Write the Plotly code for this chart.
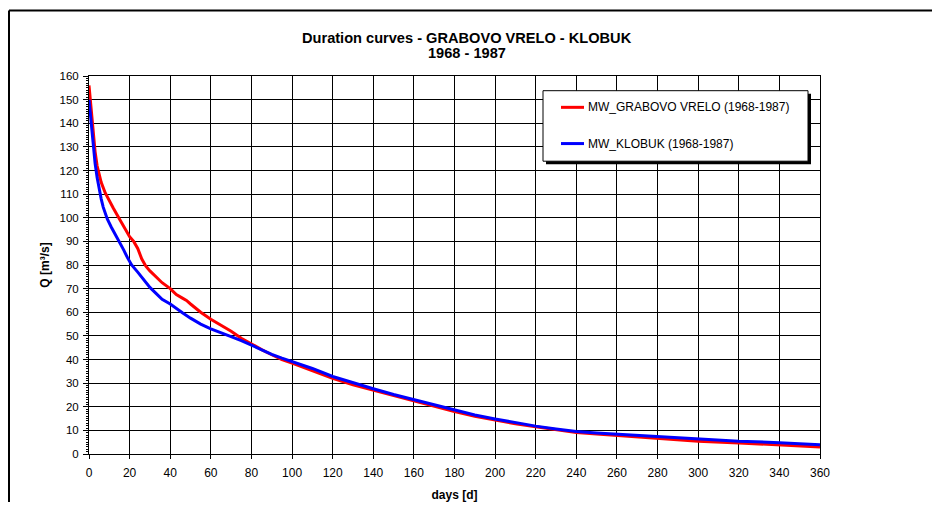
import plotly.graph_objects as go

# ---- data ----
days_grabovo = [0, 1, 2, 3, 4, 5, 6, 8, 10, 12, 15, 18, 20, 22, 24, 26, 28, 30, 33, 36, 40, 43, 46, 48,
                50, 55, 60, 65, 70, 75, 80, 85, 90, 95, 100, 110, 120, 130, 140, 150, 160, 170, 180,
                190, 200, 210, 220, 230, 240, 250, 260, 280, 300, 320, 340, 360]
q_grabovo = [156, 147, 136, 128, 122, 118, 115, 110.5, 107, 104, 99.5, 95, 92, 90, 87, 82.5, 79.5, 77.5,
             75, 72.5, 70, 67.5, 66, 65, 63.5, 60, 57, 54.5, 52, 49, 46.5, 44.2, 42, 40, 38.5, 35.3,
             32, 29.3, 27, 24.6, 22.3, 20, 18, 16, 14.3, 12.8, 11.5, 10.3, 9.1, 8.5, 7.9, 6.5, 5.4,
             4.7, 4.0, 3.0]

days_klobuk = [0, 1, 2, 3, 4, 5, 6, 7, 9, 11, 13, 15, 17, 19, 21, 24, 27, 30, 33, 36, 40, 43, 46, 50,
               55, 60, 65, 69, 75, 80, 85, 90, 95, 100, 110, 120, 130, 140, 150, 160, 170, 180, 190,
               200, 210, 220, 230, 240, 250, 260, 280, 300, 320, 340, 360]
q_klobuk = [150, 141, 131, 123, 117, 112, 108, 104.5, 99.5, 96, 93, 90, 86.5, 83, 80, 77, 73.5, 70.5,
            68, 65.5, 63.5, 61.5, 59.8, 57.5, 55, 53, 51.2, 50, 48, 46, 44, 42.2, 40.6, 39.2, 36.2,
            32.8, 30.1, 27.6, 25.2, 23, 20.6, 18.4, 16.5, 14.8, 13.2, 11.8, 10.6, 9.5, 8.9, 8.4, 7.2,
            6.2, 5.4, 4.8, 3.9]

x_ticks = list(range(0, 361, 20))
y_ticks = list(range(0, 161, 10))

name_grabovo = "MW_GRABOVO VRELO (1968-1987)"
name_klobuk = "MW_KLOBUK (1968-1987)"
title_line1 = "Duration curves - GRABOVO VRELO - KLOBUK"
title_line2 = "1968 - 1987"

FONT = "Liberation Sans, Arial, sans-serif"
RED = "#ff0000"
BLUE = "#0000ff"

# the page places the figure at (8, 8); page pixel coordinates are converted below
OFF = 8
W, H = 941 - 2 * OFF, 520 - 2 * OFF
PL, PR, PT, PB = 89, 820, 76, 462        # plot area in page pixels
L, R, T, B = PL - OFF, W - (PR - OFF), PT - OFF, H - (PB - OFF)
pw = W - L - R
ph = H - T - B


def px_x(px):
    return (px - OFF - L) / pw


def px_y(py):
    return (PB - py) / ph


fig = go.Figure()
fig.add_trace(go.Scatter(x=days_grabovo, y=q_grabovo, mode="lines", name=name_grabovo,
                         line=dict(color=RED, width=3), showlegend=False))
fig.add_trace(go.Scatter(x=days_klobuk, y=q_klobuk, mode="lines", name=name_klobuk,
                         line=dict(color=BLUE, width=3), showlegend=False))

# legend box (page pixel geometry)
LX0, LX1, LY0, LY1 = 543, 808, 91, 163
SH = 3
items = [(name_grabovo, RED, 108), (name_klobuk, BLUE, 145)]

shapes = [
    # outer frame (top and left edges visible)
    dict(type="line", xref="paper", yref="paper",
         x0=px_x(9), x1=px_x(932), y0=px_y(9), y1=px_y(9),
         line=dict(color="black", width=2), layer="below"),
    dict(type="line", xref="paper", yref="paper",
         x0=px_x(9), x1=px_x(9), y0=px_y(9), y1=px_y(511),
         line=dict(color="black", width=2), layer="below"),
    # legend shadow
    dict(type="rect", xref="paper", yref="paper",
         x0=px_x(LX0 + SH), y0=px_y(LY1 + SH), x1=px_x(LX1 + SH), y1=px_y(LY0 + SH),
         line=dict(width=0), fillcolor="black", layer="above"),
    # legend box
    dict(type="rect", xref="paper", yref="paper",
         x0=px_x(LX0), y0=px_y(LY1), x1=px_x(LX1), y1=px_y(LY0),
         line=dict(color="black", width=1), fillcolor="white", layer="above"),
]
annotations = [
    dict(text="<b>" + title_line1 + "</b>", xref="paper", yref="paper",
         x=px_x(467), y=px_y(37), xanchor="center", yanchor="middle", showarrow=False,
         font=dict(size=14.6, family=FONT)),
    dict(text="<b>" + title_line2 + "</b>", xref="paper", yref="paper",
         x=px_x(467), y=px_y(53), xanchor="center", yanchor="middle", showarrow=False,
         font=dict(size=14.6, family=FONT)),
]
for name, col, yy in items:
    shapes.append(dict(type="line", xref="paper", yref="paper",
                       x0=px_x(561), x1=px_x(584), y0=px_y(yy), y1=px_y(yy),
                       line=dict(color=col, width=3), layer="above"))
    annotations.append(dict(text=name, xref="paper", yref="paper", x=px_x(586), y=px_y(yy),
                            xanchor="left", yanchor="middle", showarrow=False,
                            font=dict(size=12, family=FONT)))

fig.update_layout(
    width=W, height=H,
    margin=dict(l=L, r=R, t=T, b=B),
    paper_bgcolor="white", plot_bgcolor="white",
    font=dict(family=FONT, size=11, color="black"),
    showlegend=False,
    xaxis=dict(range=[0, 360], tickvals=x_ticks, showgrid=True, gridcolor="black", gridwidth=1,
               showline=True, linecolor="black", linewidth=1, mirror=True,
               ticks="outside", ticklen=4, tickcolor="black", zeroline=False,
               ticklabelstandoff=4,
               title=dict(text="<b>days [d]</b>", font=dict(size=12), standoff=11),
               tickfont=dict(size=12)),
    yaxis=dict(range=[0, 160], tickvals=y_ticks, showgrid=True, gridcolor="black", gridwidth=1,
               showline=True, linecolor="black", linewidth=1, mirror=True,
               ticks="outside", ticklen=5, tickcolor="black", zeroline=False,
               ticklabelstandoff=2,
               minor=dict(dtick=1, ticks="outside", ticklen=2, tickcolor="black", showgrid=False),
               title=dict(text="<b>Q [m³/s]</b>", font=dict(size=12), standoff=7),
               tickfont=dict(size=11.5)),
    shapes=shapes,
    annotations=annotations,
)

fig.write_html("out.html")
